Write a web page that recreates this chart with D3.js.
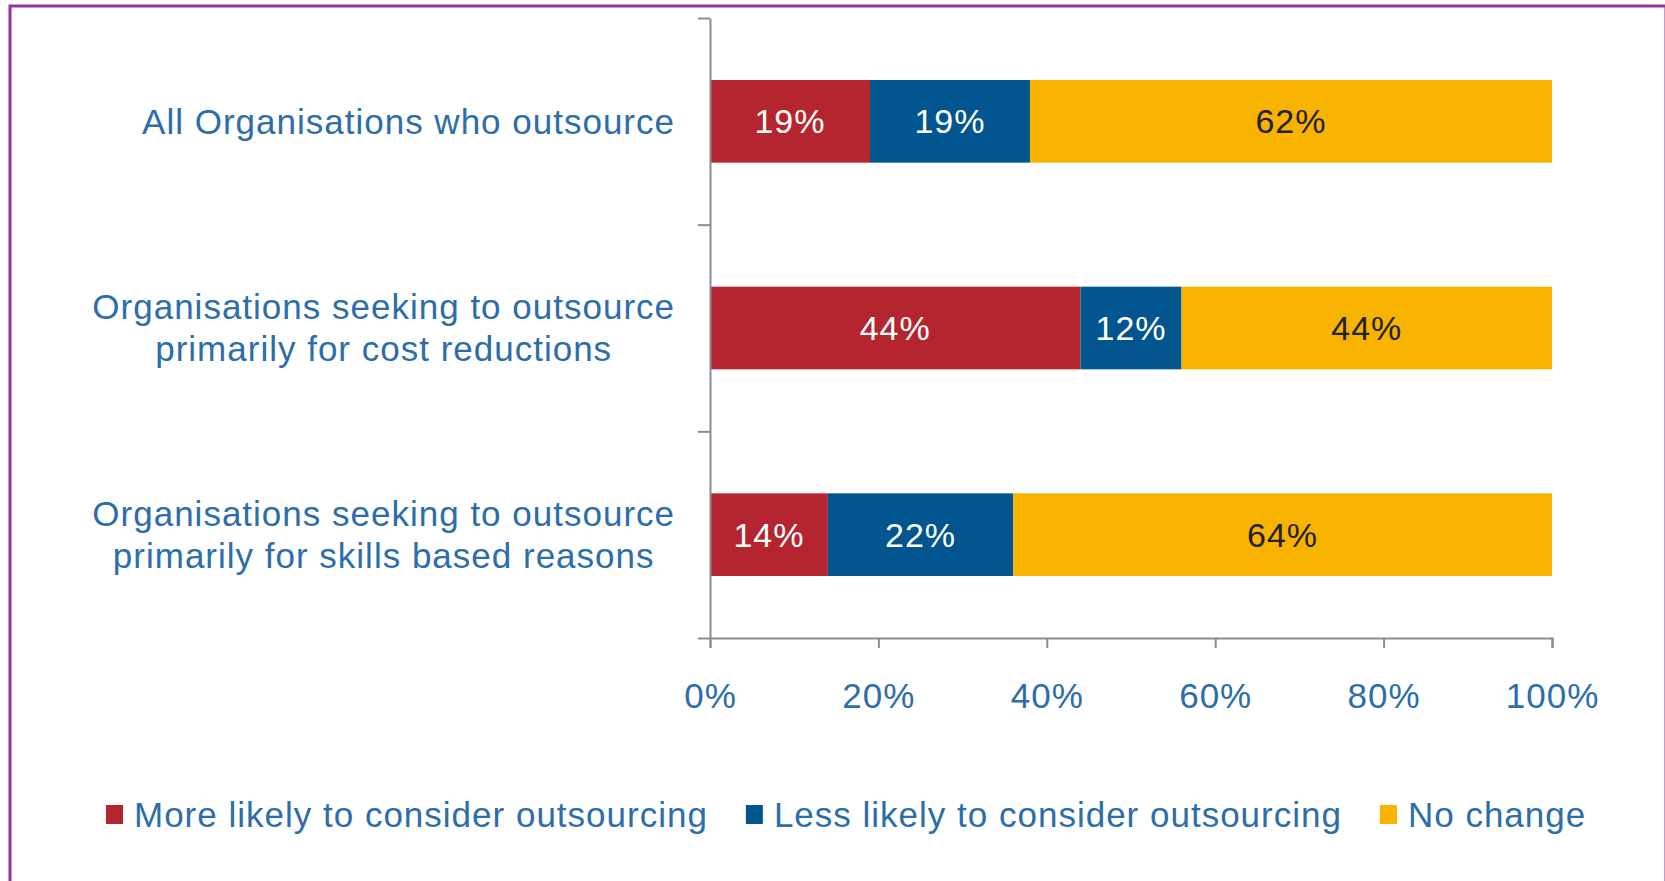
<!DOCTYPE html>
<html>
<head>
<meta charset="utf-8">
<script src="https://cdn.jsdelivr.net/npm/d3@7"></script>
<style>
  body { margin: 0; background: #fff; }
  svg { display: block; }
  text { font-family: "Liberation Sans", Arial, sans-serif; }
</style>
</head>
<body>
<script>
// data
var categories = [
    ["All Organisations who outsource"],
    ["Organisations seeking to outsource", "primarily for cost reductions"],
    ["Organisations seeking to outsource", "primarily for skills based reasons"]
];
var seriesNames = ["More likely to consider outsourcing", "Less likely to consider outsourcing", "No change"];
var moreLikely = [19, 44, 14];
var lessLikely = [19, 12, 22];
var noChange = [62, 44, 64];
var xTicks = [0, 20, 40, 60, 80, 100];

var colors = ["#b5252f", "#02558f", "#f8b200"];
var labelColors = ["#ffffff", "#ffffff", "#222222"];
var textBlue = "#2c6dab";
var axisGrey = "#8c8c8c";

var width = 1665, height = 881;
var margin = { left: 710, right: 113, top: 18, bottom: 243 };

var svg = d3.select("body").append("svg").attr("width", width).attr("height", height);

// purple frame
svg.append("rect")
    .attr("x", 10).attr("y", 6)
    .attr("width", 1656).attr("height", 900)
    .attr("fill", "none")
    .attr("stroke", "#993399")
    .attr("stroke-width", 3);

var keys = categories.map(function (d) { return d.join(" "); });
var rows = keys.map(function (k, i) {
    return { key: k, lines: categories[i], vals: [moreLikely[i], lessLikely[i], noChange[i]] };
});

var x = d3.scaleLinear().domain([0, 100]).range([margin.left, width - margin.right]);
var y = d3.scaleBand().domain(keys).range([margin.top, height - margin.bottom]).paddingInner(0.6).paddingOuter(0.3);
var yEdge = d3.scaleLinear().domain([0, keys.length]).range([margin.top, height - margin.bottom]);

// stacked segments
var stack = d3.stack().keys([0, 1, 2]).value(function (d, k) { return d.vals[k]; });
var series = stack(rows);

var layer = svg.selectAll("g.layer").data(series).enter().append("g")
    .attr("class", "layer");

layer.selectAll("rect").data(function (s) { return s; }).enter().append("rect")
    .attr("x", function (d) { return x(d[0]); })
    .attr("y", function (d) { return y(d.data.key); })
    .attr("width", function (d) { return x(d[1]) - x(d[0]); })
    .attr("height", y.bandwidth())
    .attr("fill", function (d) { return colors[d3.select(this.parentNode).datum().key]; });

layer.each(function (s, si) {
    d3.select(this).selectAll("text").data(s).enter().append("text")
        .attr("x", function (d) { return (x(d[0]) + x(d[1])) / 2; })
        .attr("y", function (d) { return y(d.data.key) + y.bandwidth() / 2; })
        .attr("dy", "0.35em")
        .attr("text-anchor", "middle")
        .attr("font-size", 34)
        .attr("letter-spacing", 1)
        .attr("fill", labelColors[si])
        .text(function (d) { return (d[1] - d[0]) + "%"; });
});

// axes
var xAxis = d3.axisBottom(x).tickValues(xTicks).tickSize(10).tickSizeOuter(10).tickPadding(35)
    .tickFormat(function (d) { return d + "%"; });
var gx = svg.append("g")
    .attr("transform", "translate(0," + (height - margin.bottom) + ")")
    .call(xAxis);
gx.selectAll("text").attr("font-size", 35).attr("letter-spacing", 1).attr("fill", textBlue).attr("font-family", null);

var yAxis = d3.axisLeft(yEdge).tickValues(d3.range(keys.length + 1)).tickSize(12).tickSizeOuter(0).tickFormat("");
var gy = svg.append("g")
    .attr("transform", "translate(" + margin.left + ",0)")
    .call(yAxis);

svg.selectAll(".domain, .tick line").attr("stroke", axisGrey).attr("stroke-width", 2);

// category labels: lines centred on each other, block right-aligned
var labelRight = margin.left - 35;
var lineH = 42;
rows.forEach(function (r) {
    var t = svg.append("text")
        .attr("font-size", 35)
        .attr("letter-spacing", 1)
        .attr("fill", textBlue)
        .attr("text-anchor", "middle");
    var cy = y(r.key) + y.bandwidth() / 2;
    var n = r.lines.length;
    var spans = t.selectAll("tspan").data(r.lines).enter().append("tspan")
        .attr("y", function (d, i) { return cy + (i - (n - 1) / 2) * lineH; })
        .attr("dy", "0.35em")
        .text(function (d) { return d; });
    var maxW = 0;
    spans.each(function () { maxW = Math.max(maxW, this.getComputedTextLength()); });
    spans.attr("x", labelRight - maxW / 2);
});

// legend
var legendY = 815;
var lx = 106;
seriesNames.forEach(function (name, i) {
    svg.append("rect")
        .attr("x", lx).attr("y", legendY - 10)
        .attr("width", 17).attr("height", 19)
        .attr("fill", colors[i]);
    var t = svg.append("text")
        .attr("x", lx + 28).attr("y", legendY)
        .attr("dy", "0.35em")
        .attr("font-size", 35)
        .attr("letter-spacing", 1)
        .attr("fill", textBlue)
        .text(name);
    lx = lx + 28 + t.node().getComputedTextLength() + 38;
});
</script>
</body>
</html>
